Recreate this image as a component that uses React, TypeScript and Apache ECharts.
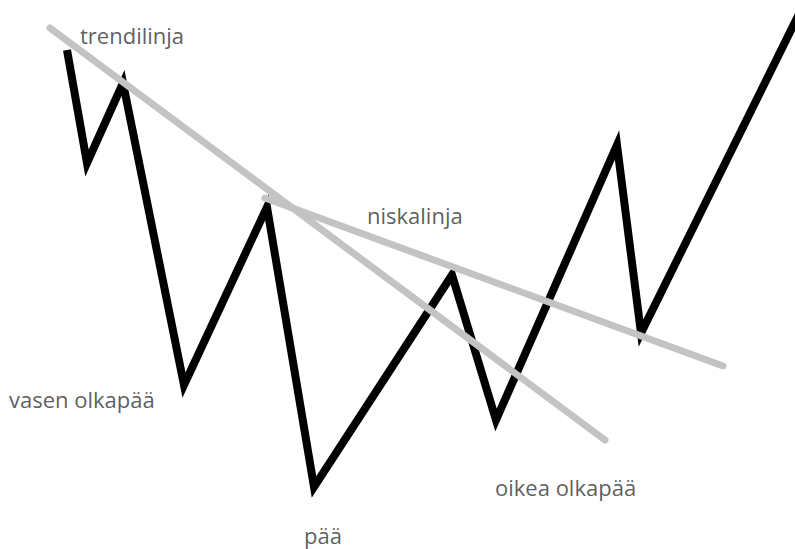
import React, { useEffect, useRef } from "react";
import * as echarts from "echarts";

// price path (x, y) in chart units: x = time, y = level measured from the top (inverted axis)
const priceX = [67, 87, 123, 184, 267, 314, 452, 496, 617, 641, 800];
const priceY = [50, 163, 83, 385, 207, 487, 275, 420, 145, 333, 12];

const trendX = [50, 605];
const trendY = [28, 440];

const neckX = [265, 723];
const neckY = [198, 366];

const labelTexts = ["trendilinja", "niskalinja", "vasen olkapää", "oikea olkapää", "pää"];
const labelX = [80, 367, 9, 495, 304];
const labelY = [35, 215, 399, 487, 535];

const zip = (xs: number[], ys: number[]) => xs.map((x, i) => [x, ys[i]]);

export default function App() {
  const ref = useRef<HTMLDivElement>(null);
  useEffect(() => {
    document.body.style.margin = "0";
    const chart = echarts.init(ref.current!, undefined, { renderer: "svg" });
    chart.setOption({
      animation: false,
      backgroundColor: "#ffffff",
      grid: { left: 0, right: 0, top: 0, bottom: 0 },
      xAxis: { type: "value", min: 0, max: 795, show: false },
      yAxis: { type: "value", min: 0, max: 549, inverse: true, show: false },
      series: [
        {
          type: "line",
          data: zip(priceX, priceY),
          symbol: "none",
          clip: true,
          lineStyle: { color: "#000000", width: 8, join: "miter", cap: "butt" },
          z: 2,
        },
        {
          type: "line",
          data: zip(trendX, trendY),
          symbol: "none",
          lineStyle: { color: "#c3c3c3", width: 7, cap: "round" },
          z: 3,
        },
        {
          type: "line",
          data: zip(neckX, neckY),
          symbol: "none",
          lineStyle: { color: "#c3c3c3", width: 7, cap: "round" },
          z: 3,
        },
        {
          type: "scatter",
          symbolSize: 0,
          data: zip(labelX, labelY).map((p, i) => ({ value: p, name: labelTexts[i] })),
          label: {
            show: true,
            position: "inside",
            align: "left",
            verticalAlign: "middle",
            formatter: (p: any) => p.name,
            color: "#333333",
            fontSize: 22,
            fontFamily: "Open Sans",
          },
          z: 4,
        },
      ],
    });
    return () => chart.dispose();
  }, []);
  return <div ref={ref} style={{ width: 795, height: 549 }} />;
}
